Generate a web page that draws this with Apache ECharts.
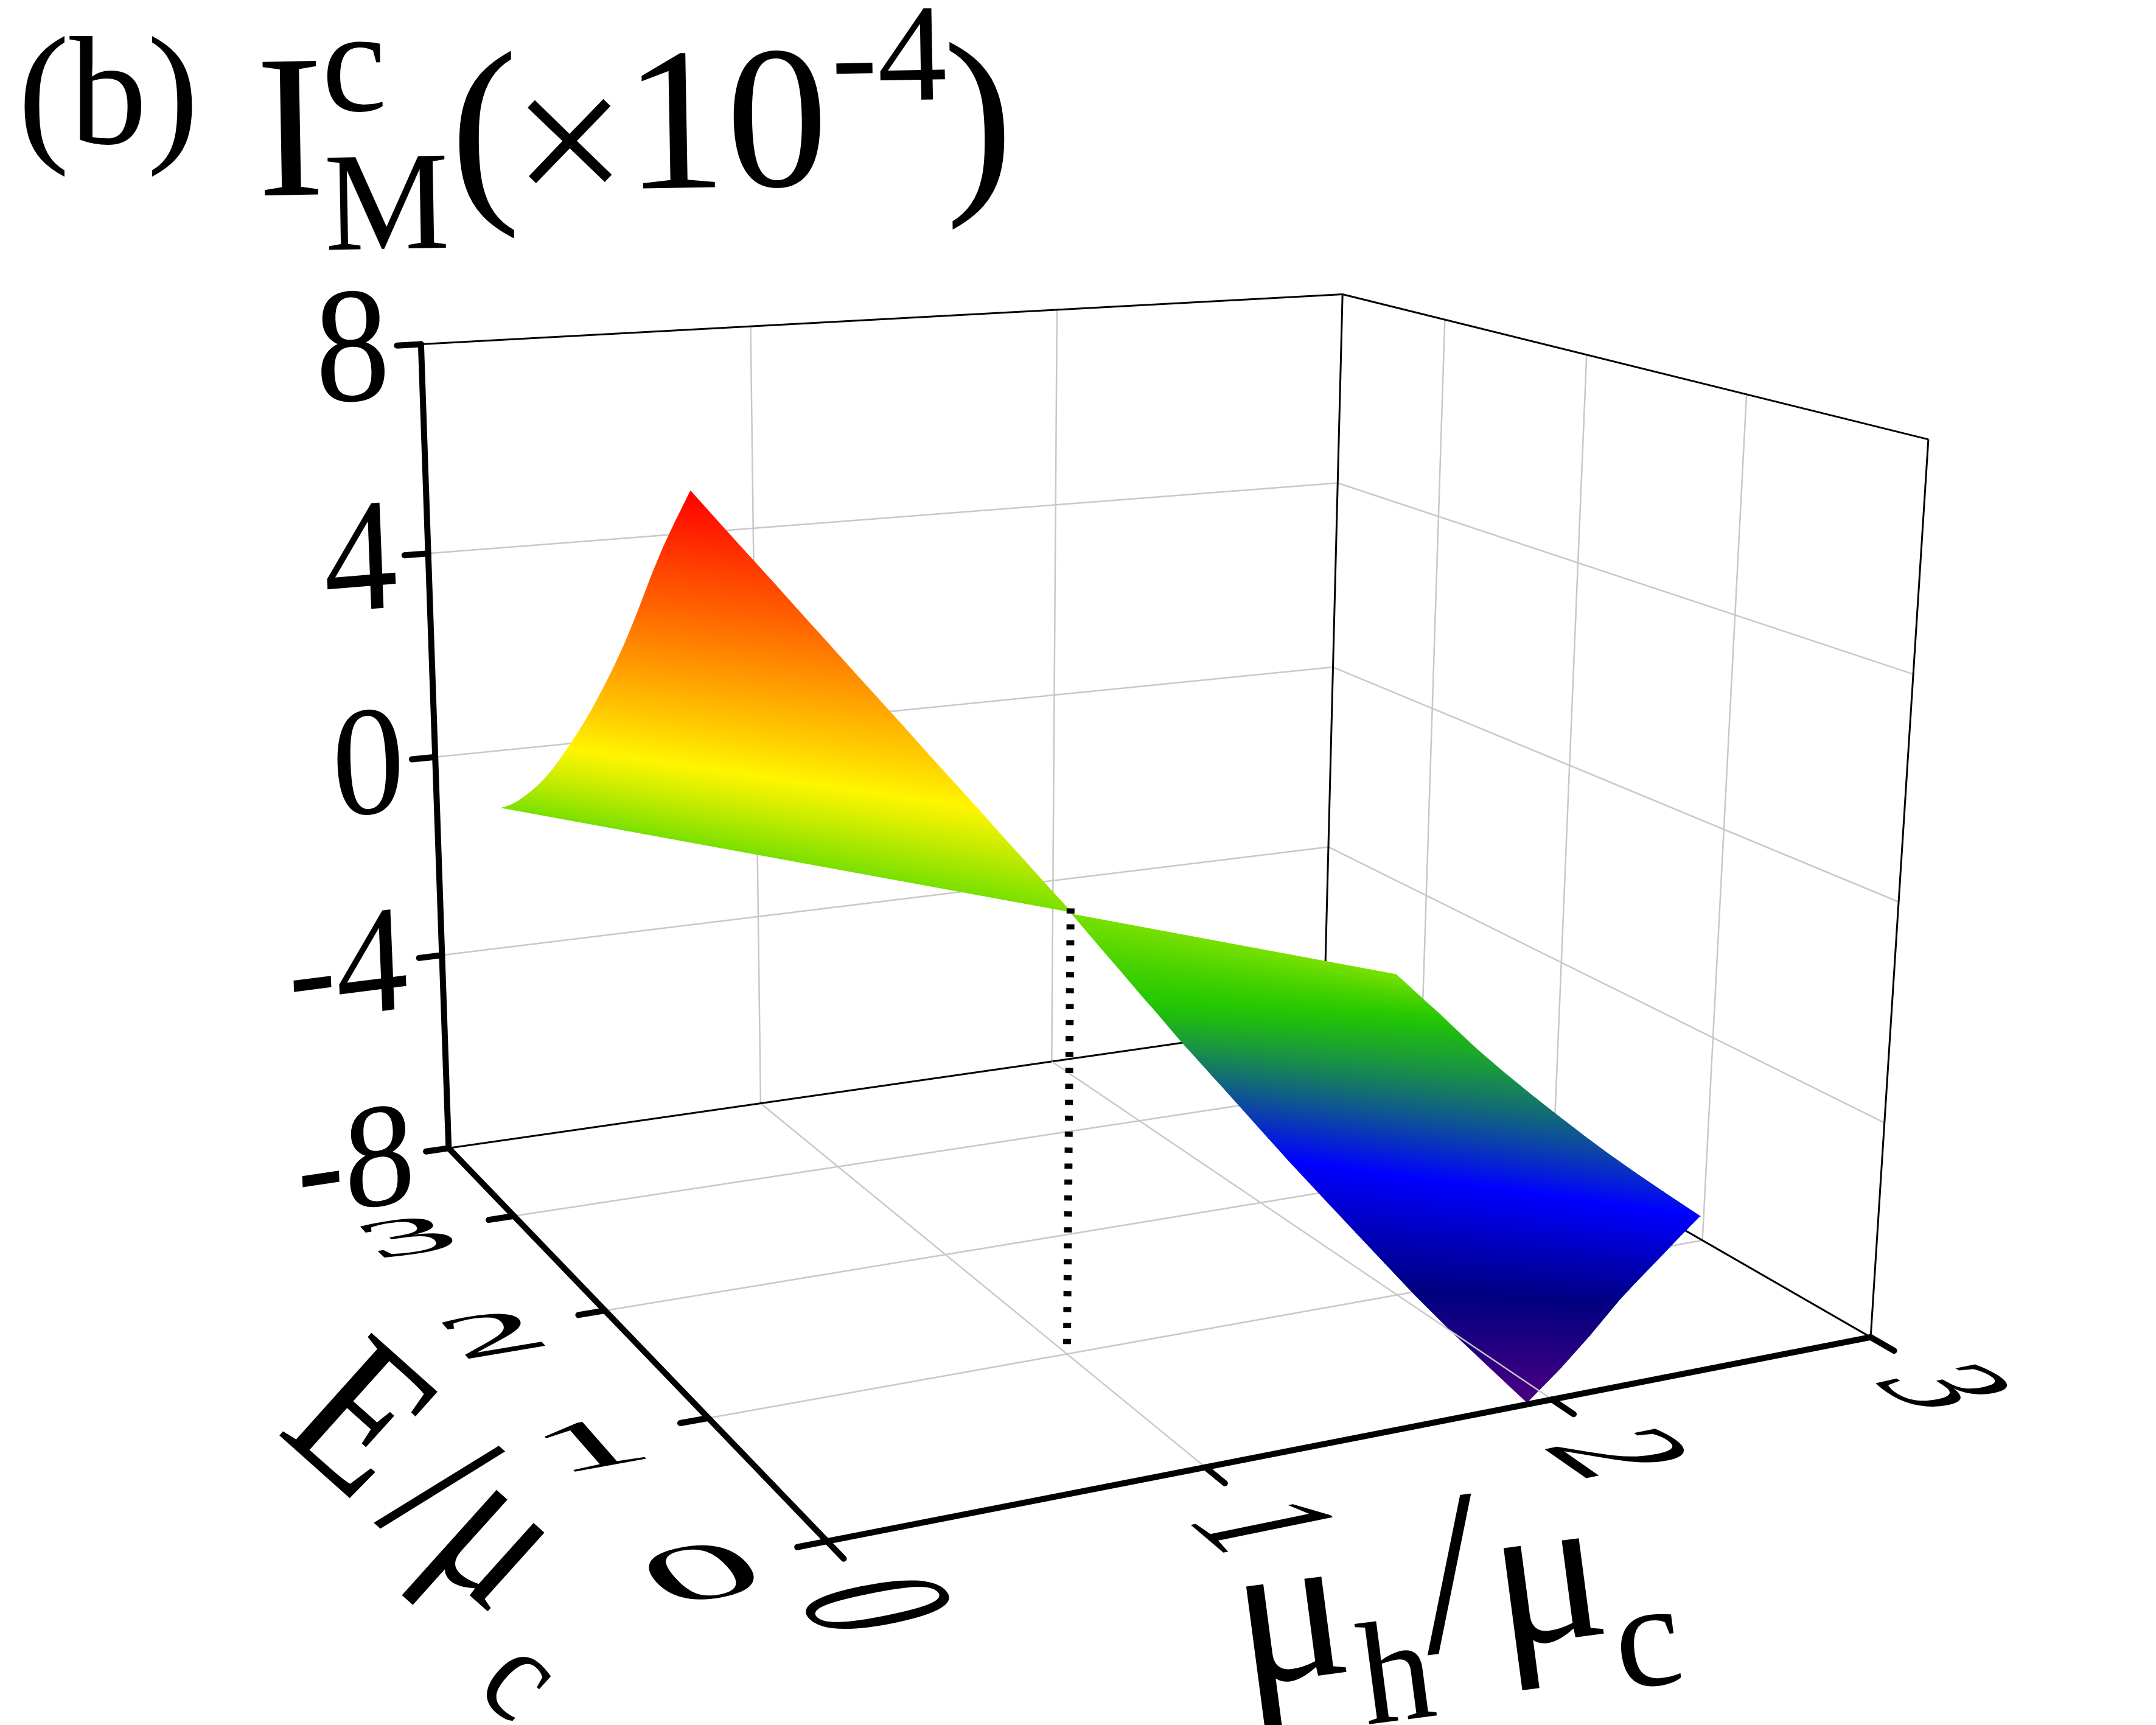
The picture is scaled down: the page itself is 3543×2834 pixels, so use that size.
<!DOCTYPE html>
<html><head><meta charset="utf-8"><style>html,body{margin:0;background:#fff}#c{width:3543px;height:2834px}</style>
<script src="https://cdn.jsdelivr.net/npm/echarts@6/dist/echarts.min.js"></script></head>
<body><div id="c"></div>
<script>
// ---- axis values ----
const muTicks = [0, 1, 2, 3];
const eTicks = [0, 1, 2, 3];
const zTicks = [-8, -4, 0, 4, 8];
const muMax = 3, eMax = 3.8, zMin = -8, zMax = 8;
const dropMu = 1, dropE = 1, dropTop = 0.06;

// ---- surface: rows of equal height ----
const leftZ = [0, 0.1, 0.2, 0.35, 0.5, 0.7, 0.9, 1.15, 1.4, 1.7, 2, 2.5, 3, 3.5, 4, 4.5, 5, 5.5, 6, 6.5, 7, 7.3, 7.62];
const leftLineMu = [1, 0.987, 0.974, 0.954, 0.934, 0.908, 0.882, 0.849, 0.816, 0.777, 0.738, 0.672, 0.606, 0.541, 0.475, 0.409, 0.344, 0.278, 0.213, 0.147, 0.081, 0.042, 0];
const leftLineE = [1, 1, 1, 1.001, 1.001, 1.002, 1.002, 1.003, 1.004, 1.004, 1.005, 1.007, 1.008, 1.009, 1.01, 1.012, 1.013, 1.014, 1.016, 1.017, 1.018, 1.019, 1.02];
const leftEAtMu0 = [2.994, 2.936, 2.883, 2.813, 2.749, 2.668, 2.591, 2.504, 2.424, 2.334, 2.251, 2.114, 1.987, 1.869, 1.756, 1.650, 1.552, 1.459, 1.367, 1.268, 1.160, 1.092, 1.02];

const rightZ = [0, -0.3, -0.6, -0.9, -1.2, -1.5, -1.8, -2.1, -2.4, -2.7, -3, -3.3, -3.6, -3.9, -4.2, -4.5, -4.8, -5.2, -5.6, -6, -6.35, -6.7, -7.1, -7.5, -7.95];
const upperMu = [1.487, 1.552, 1.617, 1.682, 1.747, 1.811, 1.876, 1.940, 1.992, 2.024, 2.063, 2.106, 2.152, 2.200, 2.251, 2.306, 2.364, 2.443, 2.389, 2.336, 2.289, 2.250, 2.142, 2.036, 1.922];
const upperE = [-0.026, 0.075, 0.174, 0.273, 0.369, 0.465, 0.560, 0.653, 0.682, 0.589, 0.506, 0.428, 0.355, 0.285, 0.219, 0.158, 0.101, 0.027, 0.049, 0.070, 0.089, 0.113, 0.063, 0.023, -0.005];
const lowerMu = [0.994, 1.039, 1.083, 1.127, 1.171, 1.215, 1.258, 1.301, 1.342, 1.376, 1.410, 1.447, 1.483, 1.520, 1.556, 1.592, 1.628, 1.676, 1.704, 1.734, 1.761, 1.789, 1.827, 1.871, 1.922];
const lowerE = [0.972, 1.014, 1.054, 1.092, 1.129, 1.165, 1.199, 1.232, 1.246, 1.225, 1.205, 1.186, 1.167, 1.148, 1.128, 1.108, 1.087, 1.059, 0.884, 0.717, 0.575, 0.438, 0.288, 0.148, -0.005];

// ---- colour scale ----
const colorZ = [7.62, 2, 0, -2.3, -5.2, -6.7, -7.95];
const colorRGB = [[255,0,0],[255,245,0],[120,224,0],[34,200,0],[0,0,255],[0,0,128],[75,0,130]];

// ---- view: perspective camera of the box ----
const cam = [2.13824,-0.41650,-0.10450,1.35909,-0.03287,-0.12067,-1.72648,2.53221,0.13768,0.27842,-0.06702];
function proj(mu, E, z) {
  const u = mu / muMax, v = E / eMax, w = (z - zMin) / (zMax - zMin), p = cam;
  const d = p[8]*u + p[9]*v + p[10]*w + 1;
  return [1000*(p[0]*u + p[1]*v + p[2]*w + p[3])/d, 1000*(p[4]*u + p[5]*v + p[6]*w + p[7])/d];
}
function colorAt(z) {
  for (let i = 0; i < colorZ.length - 1; i++) {
    if (z <= colorZ[i] && z >= colorZ[i+1]) {
      const f = (colorZ[i] - z) / (colorZ[i] - colorZ[i+1]);
      const c = colorRGB[i].map((a, k) => Math.round(a + f * (colorRGB[i+1][k] - a)));
      return 'rgb(' + c.join(',') + ')';
    }
  }
  return 'rgb(' + colorRGB[z > 0 ? 0 : colorRGB.length - 1].join(',') + ')';
}

// ---- segments ----
const grayBack = [], grayFloorUnder = [], frame = [], thick = [], ticks = [], grayTop = [];
[1, 2].forEach(m => grayBack.push([m, eMax, zMin, m, eMax, zMax]));
[-4, 0, 4].forEach(z => {
  grayBack.push([0, eMax, z, muMax, eMax, z]);
  grayBack.push([muMax, 0, z, muMax, eMax, z]);
});
[1, 2, 3].forEach(e => {
  grayBack.push([muMax, e, zMin, muMax, e, zMax]);
  grayFloorUnder.push([0, e, zMin, muMax, e, zMin]);
});
grayFloorUnder.push([1, 0, zMin, 1, eMax, zMin]);
grayTop.push([2, 0, zMin, 2, eMax, zMin]);
frame.push([0, eMax, zMax, muMax, eMax, zMax], [muMax, 0, zMax, muMax, eMax, zMax],
  [muMax, eMax, zMin, muMax, eMax, zMax], [muMax, 0, zMin, muMax, 0, zMax],
  [0, eMax, zMin, muMax, eMax, zMin], [muMax, 0, zMin, muMax, eMax, zMin]);
thick.push([0, eMax, zMin, 0, eMax, zMax], [0, 0, zMin, 0, eMax, zMin], [0, 0, zMin, muMax, 0, zMin]);
zTicks.forEach(z => ticks.push([-0.07, eMax, z, 0, eMax, z]));
eTicks.forEach(e => ticks.push([-0.075, e, zMin, 0, e, zMin]));
muTicks.forEach(m => ticks.push([m, -0.13, zMin, m, 0, zMin]));

function lineSeries(segs, stroke, width, cap, dash) {
  return {
    type: 'custom', coordinateSystem: 'cartesian2d', clip: false, silent: true, animation: false,
    data: segs,
    renderItem(params, api) {
      const a = api.coord(proj(api.value(0), api.value(1), api.value(2)));
      const b = api.coord(proj(api.value(3), api.value(4), api.value(5)));
      return { type: 'line', shape: { x1: a[0], y1: a[1], x2: b[0], y2: b[1] },
        style: { stroke, lineWidth: width, lineCap: cap, lineDash: dash || null, fill: null } };
    }
  };
}

// ---- surface cells ----
const cells = [];
for (let i = 0; i < leftZ.length - 1; i++)
  cells.push([leftLineMu[i], leftLineE[i], 0, leftEAtMu0[i], leftZ[i], leftLineMu[i+1], leftLineE[i+1], 0, leftEAtMu0[i+1], leftZ[i+1]]);
for (let i = 0; i < rightZ.length - 1; i++)
  cells.push([lowerMu[i], lowerE[i], upperMu[i], upperE[i], rightZ[i], lowerMu[i+1], lowerE[i+1], upperMu[i+1], upperE[i+1], rightZ[i+1]]);

const surfaceSeries = {
  type: 'custom', coordinateSystem: 'cartesian2d', clip: false, silent: true, animation: false,
  data: cells,
  renderItem(params, api) {
    const v = i => api.value(i);
    const z1 = v(4), z2 = v(9);
    const a1 = api.coord(proj(v(0), v(1), z1)), b1 = api.coord(proj(v(2), v(3), z1));
    const a2 = api.coord(proj(v(5), v(6), z2)), b2 = api.coord(proj(v(7), v(8), z2));
    const dx = b1[0]-a1[0], dy = b1[1]-a1[1], L = Math.hypot(dx, dy) || 1;
    const nx = -dy/L, ny = dx/L;
    const mx1 = (a1[0]+b1[0])/2, my1 = (a1[1]+b1[1])/2, mx2 = (a2[0]+b2[0])/2, my2 = (a2[1]+b2[1])/2;
    const k = (mx2-mx1)*nx + (my2-my1)*ny;
    const g = new echarts.graphic.LinearGradient(mx1, my1, mx1+nx*k, my1+ny*k,
      [{offset:0,color:colorAt(z1)},{offset:1,color:colorAt(z2)}], true);
    return { type: 'polygon', shape: { points: [a1, b1, b2, a2] }, style: { fill: g, stroke: g, lineWidth: 1.2 } };
  }
};

// ---- texts ----
const serif = '"Liberation Serif","Times New Roman",serif';
const FS = 100, BASELINE_OFFSET = 26.8;
const texts = [];
// a text given baseline centre and page vectors (per em) of its right and up directions
function pageText(str, bx, by, ex, up) {
  texts.push({ str, bx, by, m: [ex[0]/FS, -up[0]/FS, ex[1]/FS, -up[1]/FS] });
}
function planeText(str, P, ex3, ey3) {
  const o = proj(P[0], P[1], P[2]);
  const at = (V, s) => proj(P[0]+V[0]*s, P[1]+V[1]*s, P[2]+V[2]*s);
  const d = (V) => { const a = at(V, 0.25), b = at(V, -0.25); return [(a[0]-b[0])*2, (a[1]-b[1])*2]; };
  pageText(str, o[0], o[1], d(ex3), d(ey3));
}
function upright(size, deg) {
  const r = deg*Math.PI/180;
  return [[size*Math.cos(r), size*Math.sin(r)], [size*Math.sin(r), -size*Math.cos(r)]];
}
// heading
const headingParts = [
  ['(b)', 178, 237, 255, 0], ['I', 479, 322, 335, -1], ['c', 583, 183, 240, -1], ['M', 637, 410, 231, -1],
  ['(', 798, 322, 340, -1], ['\u00d7', 938, 345, 335, -1], ['10', 1195, 309, 335, -1], ['-4', 1462, 166, 228, -1], [')', 1610, 306, 340, -1]
];
headingParts.forEach(([s, x, y, size, deg]) => { const b = upright(size, deg); pageText(s, x, y, b[0], b[1]); });
// z tick labels on the back wall
zTicks.forEach(z => planeText(String(z), [z < 0 ? -0.285 : -0.2, eMax, z - 1.0], [0.43, 0, 0], [0, 0, 3.1]));
// energy tick labels on the floor
eTicks.forEach(e => planeText(String(e), [-0.325, e - 0.216, zMin], [0.52, 0, 0], [0, 0.52, 0]));
// mu tick labels on the floor
muTicks.forEach(m => planeText(String(m), [m - 0.186, -0.45, zMin], [0, -0.6, 0], [0.49, 0, 0]));
// axis titles
const eRight = [221, 197], eUp = [231, -257];
pageText('E', 519, 2414, eRight, eUp);
pageText('/', 646, 2528, eRight, eUp);
pageText('\u03bc', 750, 2604, eRight, eUp);
pageText('c', 810, 2808, [eRight[0]*0.65, eRight[1]*0.65], [eUp[0]*0.65, eUp[1]*0.65]);
[['\u03bc', 2134, 2759, 350], ['h', 2305, 2827, 240], ['/', 2398, 2711, 380], ['\u03bc', 2557, 2696, 350], ['c', 2717, 2770, 245]]
  .forEach(([s, x, y, size]) => { const b = upright(size, -7.5); pageText(s, x, y, b[0], b[1]); });

const textSeries = {
  type: 'custom', coordinateSystem: 'cartesian2d', clip: false, silent: true, animation: false,
  data: texts.map((t, i) => [i]),
  renderItem(params, api) {
    const t = texts[api.value(0)];
    const [m00, m01, m10, m11] = t.m;
    const E = (m00+m11)/2, F = (m00-m11)/2, G = (m10+m01)/2, H = (m10-m01)/2;
    const Q = Math.hypot(E, H), R = Math.hypot(F, G);
    const a1 = Math.atan2(G, F), a2 = Math.atan2(H, E);
    const th2 = (a2-a1)/2, th1 = (a2+a1)/2;
    const c = api.coord([t.bx, t.by]);
    const r = -th2, off = -BASELINE_OFFSET;
    return { type: 'group', x: c[0], y: c[1], rotation: -th1, scaleX: Q+R, scaleY: Q-R,
      children: [{ type: 'text', rotation: r, x: off*Math.sin(r), y: off*Math.cos(r),
        style: { text: t.str, x: 0, y: 0, fill: '#000', font: FS + 'px ' + serif, align: 'center', verticalAlign: 'middle' } }] };
  }
};

const dropLine = lineSeries([[dropMu, dropE, dropTop, dropMu, dropE, zMin]], '#000', 13, 'butt', [8.5, 17.7]);

const chart = echarts.init(document.getElementById('c'), null, { renderer: 'canvas', width: 3543, height: 2834 });
chart.setOption({
  animation: false, backgroundColor: '#fff',
  grid: { left: 0, right: 0, top: 0, bottom: 0 },
  xAxis: { type: 'value', min: 0, max: 3543, show: false },
  yAxis: { type: 'value', min: 0, max: 2834, inverse: true, show: false },
  series: [
    lineSeries(grayBack, '#c8c8c8', 2.5, 'butt'),
    lineSeries(grayFloorUnder, '#c8c8c8', 2.5, 'butt'),
    lineSeries(frame, '#000', 3, 'butt'),
    surfaceSeries,
    lineSeries(grayTop, '#c8c8c8', 2.5, 'butt'),
    dropLine,
    lineSeries(thick, '#000', 10, 'round'),
    lineSeries(ticks, '#000', 10, 'round'),
    textSeries
  ]
});
</script></body></html>
